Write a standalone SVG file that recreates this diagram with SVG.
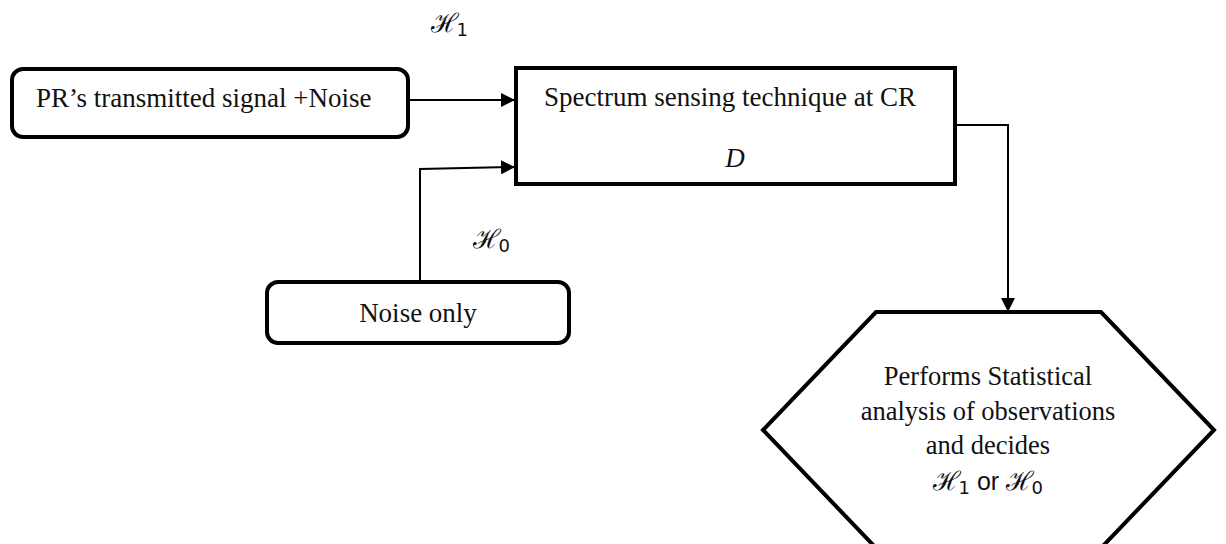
<svg xmlns="http://www.w3.org/2000/svg" width="1226" height="544" viewBox="0 0 1226 544">
  <style>
    .box { fill: #fff; stroke: #000; stroke-width: 4; }
    .link { fill: none; stroke: #000; stroke-width: 2; }
    .txt { font-family: "Liberation Serif", "Times New Roman", serif; font-size: 27px; fill: #111; }
    .hex { font-size: 26.5px; }
    .math { font-family: "Noto Sans", "DejaVu Sans", sans-serif; font-size: 26px; fill: #111; }
    .sub { font-family: "DejaVu Sans", "Liberation Sans", sans-serif; font-size: 18px; }
    .or { font-family: "Liberation Sans", "DejaVu Sans", sans-serif; font-size: 25px; }
  </style>
  <defs>
    <marker id="arrow" markerWidth="14" markerHeight="14" refX="14" refY="7" orient="auto" markerUnits="userSpaceOnUse">
      <path d="M0,0 L14,7 L0,14 Z" fill="#000"/>
    </marker>
  </defs>
  <rect width="1226" height="544" fill="#fff"/>

  <!-- connectors -->
  <g id="connectors">
    <line class="link" x1="408" y1="100" x2="515" y2="100" marker-end="url(#arrow)"/>
    <polyline class="link" points="420,282 420,169 515,167" marker-end="url(#arrow)"/>
    <polyline class="link" points="955,125 1008,125 1008,312" marker-end="url(#arrow)"/>
  </g>

  <!-- hypothesis labels -->
  <text class="math" x="431" y="32">ℋ<tspan class="sub" dx="-2" dy="4">1</tspan></text>
  <text class="math" x="473" y="248">ℋ<tspan class="sub" dx="-2" dy="4">0</tspan></text>

  <g id="pr-signal">
    <rect class="box" x="12" y="69" width="396" height="68" rx="11"/>
    <text class="txt" x="36" y="107">PR’s transmitted signal +Noise</text>
  </g>

  <g id="spectrum-sensing">
    <rect class="box" x="516" y="68" width="439" height="116"/>
    <text class="txt" x="730" y="106" text-anchor="middle">Spectrum sensing technique at CR</text>
    <text class="txt" x="735" y="167" text-anchor="middle" font-style="italic">D</text>
  </g>

  <g id="noise-only">
    <rect class="box" x="267" y="282" width="302" height="61" rx="11"/>
    <text class="txt" x="418" y="322" text-anchor="middle">Noise only</text>
  </g>

  <g id="decision">
    <polygon class="box" points="876,312 1101,312 1214,430 1101,548 876,548 763,430"/>
    <text class="txt hex" x="988" y="385" text-anchor="middle">Performs Statistical</text>
    <text class="txt hex" x="988" y="420" text-anchor="middle">analysis of observations</text>
    <text class="txt hex" x="988" y="454" text-anchor="middle">and decides</text>
    <text class="math" x="988" y="490" text-anchor="middle">ℋ<tspan class="sub" dx="-2" dy="4">1</tspan><tspan class="or" dy="-4"> or </tspan>ℋ<tspan class="sub" dx="-2" dy="4">0</tspan></text>
  </g>
</svg>
